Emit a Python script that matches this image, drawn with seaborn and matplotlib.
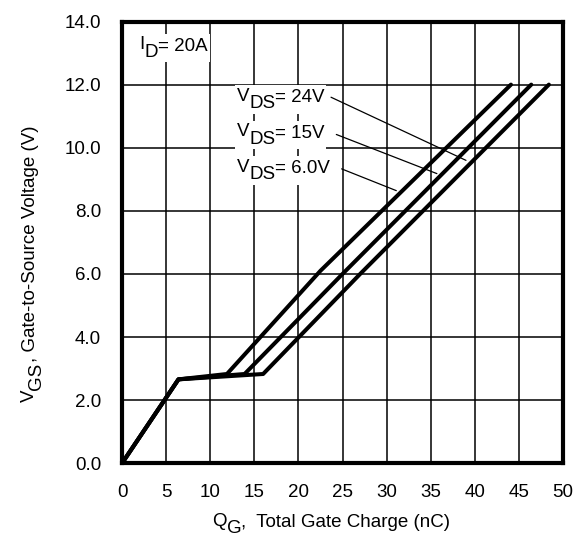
import matplotlib
matplotlib.use("Agg")
import matplotlib.pyplot as plt
import seaborn as sns
import pandas as pd
from matplotlib.transforms import IdentityTransform, Bbox
from matplotlib.patches import Rectangle

# Gate charge curves (Q_G in nC, V_GS in V)
q_6v = [0, 6.4, 11.9, 22.5, 44.1]
v_6v = [0, 2.66, 2.83, 6.1, 12.0]
q_15v = [0, 6.4, 13.9, 25.0, 46.4]
v_15v = [0, 2.66, 2.83, 6.0, 12.0]
q_24v = [0, 6.4, 16.0, 27.0, 48.4]
v_24v = [0, 2.66, 2.83, 6.0, 12.0]
series_names = ["VDS=6.0V", "VDS=15V", "VDS=24V"]

x_ticks = [0, 5, 10, 15, 20, 25, 30, 35, 40, 45, 50]
y_ticks = [0, 2, 4, 6, 8, 10, 12, 14]
y_tick_labels = ["0.0", "2.0", "4.0", "6.0", "8.0", "10.0", "12.0", "14.0"]

# annotation texts: (main letter, subscript, rest)
vds_labels = [("V", "DS", "= 24V"), ("V", "DS", "= 15V"), ("V", "DS", "= 6.0V")]
vds_label_pos = [(13.0, 11.44), (13.0, 10.31), (13.0, 9.19)]
leader_start = [(23.7, 11.6), (24.3, 10.42), (24.9, 9.33)]
leader_end = [(39.0, 9.6), (35.7, 9.18), (31.1, 8.64)]
id_label = ("I", "D", "= 20A")
id_label_pos = (2.0, 13.07)
x_label = ("Q", "G", ",  Total Gate Charge (nC)")
y_label = ("V", "GS", ", Gate-to-Source Voltage (V)")

sns.set_theme(style="white")
plt.rcParams["font.family"] = ["Liberation Sans", "DejaVu Sans"]

W, H = 581, 544
fig = plt.figure(figsize=(W / 100, H / 100), dpi=100)
ax = fig.add_axes([122 / W, 1 - 463.3 / H, 441 / W, 441.8 / H])

frames = []
for name, q, v in zip(series_names, [q_6v, q_15v, q_24v], [v_6v, v_15v, v_24v]):
    frames.append(pd.DataFrame({"Q": q, "V": v, "series": name}))
df = pd.concat(frames, ignore_index=True)

sns.lineplot(data=df, x="Q", y="V", units="series", estimator=None,
             color="black", linewidth=2.9, ax=ax, legend=False, zorder=3)

ax.set_xlim(0, 50)
ax.set_ylim(0, 14)
ax.set_xticks(x_ticks)
ax.set_yticks(y_ticks)
ax.set_yticklabels(y_tick_labels)
ax.grid(True, color="black", linewidth=1.1)
ax.set_axisbelow(True)
for s in ax.spines.values():
    s.set_color("black")
    s.set_linewidth(3.0)
ax.tick_params(axis="y", direction="in", length=13, width=1.6, color="black",
               labelsize=13.5, pad=15, labelcolor="black")
ax.tick_params(axis="x", length=0, labelsize=13.5, pad=15, labelcolor="black")
ax.set_xlabel("")
ax.set_ylabel("")

renderer = fig.canvas.get_renderer()
SUB_DY = -6.0
MAIN_DY = 1.5


def rich_text(x_px, y_px, parts, size, rotation=0, box=False):
    """Draw main letter + full-size lowered subscript + rest, starting at display px."""
    offsets = [MAIN_DY, SUB_DY, 0.0]
    pos = 0.0
    exts = []
    for s, dy in zip(parts, offsets):
        if rotation == 0:
            tx, ty = x_px + pos, y_px + dy
        else:
            tx, ty = x_px - dy, y_px + pos
        t = fig.text(tx, ty, s, transform=IdentityTransform(), fontsize=size,
                     color="black", ha="left", va="baseline", rotation=rotation,
                     rotation_mode="anchor", zorder=6)
        e = t.get_window_extent(renderer)
        exts.append(e)
        pos += e.width if rotation == 0 else e.height
    if box:
        bb = Bbox.union(exts)
        rect = Rectangle((bb.x0 - 1.5, bb.y0 - 1.5), bb.width + 3, bb.height + 4,
                         transform=IdentityTransform(), facecolor="white",
                         edgecolor="none", zorder=2)
        ax.add_patch(rect)
    return exts


for lab, (tx, ty), (sx, sy), (ex, ey) in zip(vds_labels, vds_label_pos, leader_start, leader_end):
    ax.plot([sx, ex], [sy, ey], color="black", linewidth=0.9, zorder=4)
    px, py = ax.transData.transform((tx, ty))
    rich_text(px, py, lab, 13.5, box=True)

px, py = ax.transData.transform(id_label_pos)
rich_text(px, py, id_label, 13.5, box=True)

# axis labels
rich_text(212, H - 527, x_label, 13.5)
rich_text(35, H - 402, y_label, 13.5, rotation=90)

fig.savefig("out.png", dpi=100)
